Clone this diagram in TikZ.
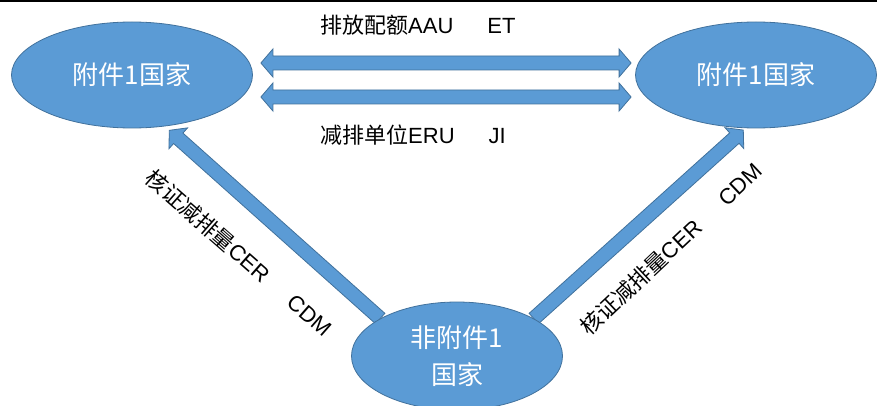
\documentclass[tikz,border=0pt]{standalone}
\usepackage{fontspec}
\setmainfont{Liberation Sans}
\newfontfamily\cjk{Noto Sans CJK SC}
\usetikzlibrary{shapes.geometric,calc,backgrounds}
\definecolor{nodeblue}{RGB}{91,155,213}
\definecolor{edgeblue}{RGB}{65,113,156}

\tikzset{
  country/.style={ellipse, fill=nodeblue, draw=edgeblue, line width=0.8pt, text=white,
    inner sep=0pt, align=center, font=\cjk\fontsize{26}{37}\selectfont},
  tradelabel/.style={inner sep=0pt, font=\fontsize{22}{26}\selectfont},
  bigarrow/.style={fill=nodeblue, draw=edgeblue, line width=0.8pt, line join=miter}
}

% block arrow, one head, from #1 to #2
\newcommand\blockarrow[2]{%
  \coordinate (hd) at ($(#2)!12pt!(#1)$);
  \draw[bigarrow] ($(#1)!7pt!90:(#2)$) -- ($(hd)!7pt!90:(#2)$) -- ($(hd)!14pt!90:(#2)$)
    -- (#2) -- ($(hd)!14pt!-90:(#2)$) -- ($(hd)!7pt!-90:(#2)$) -- ($(#1)!7pt!-90:(#2)$) -- cycle;}

% block arrow, two heads, between #1 and #2
\newcommand\dblarrow[2]{%
  \coordinate (ha) at ($(#1)!12pt!(#2)$);
  \coordinate (hb) at ($(#2)!12pt!(#1)$);
  \draw[bigarrow] (#1) -- ($(ha)!14pt!90:(#2)$) -- ($(ha)!7pt!90:(#2)$) -- ($(hb)!7pt!90:(#2)$)
    -- ($(hb)!14pt!90:(#2)$) -- (#2) -- ($(hb)!14pt!-90:(#2)$) -- ($(hb)!7pt!-90:(#2)$)
    -- ($(ha)!7pt!-90:(#2)$) -- ($(ha)!14pt!-90:(#2)$) -- cycle;}

\begin{document}
\begin{tikzpicture}[x=1pt,y=-1pt]
\useasboundingbox (0,0) rectangle (877,406);

% line along the top
\draw [line width=2pt] (0,1) -- (877,1);

% the three countries
\path (132,75) node[country, minimum width=241pt, minimum height=106pt] (annexL) {附件1国家};
\path (756,75) node[country, minimum width=241pt, minimum height=106pt] (annexR) {附件1国家};
\path (457,356) node[country, minimum width=211pt, minimum height=108pt] (nonannex) {非附件1\\国家};

% end points of the arrows
\coordinate (aauL) at ($(annexL.east)+(8,-12)$);
\coordinate (aauR) at ($(annexR.west)+(-4,-12)$);
\coordinate (eruL) at ($(annexL.east)+(8,22)$);
\coordinate (eruR) at ($(annexR.west)+(-4,22)$);
\coordinate (cdmL) at ($(annexL.-56)!-5pt!(annexL.center)$);
\coordinate (cdmR) at ($(annexR.-103)!-2pt!(annexR.center)$);

% to draw the block arrows, behind the ellipses
\begin{scope}[on background layer]
\dblarrow{aauL}{aauR}
\dblarrow{eruL}{eruR}
\blockarrow{nonannex.154}{cdmL}
\blockarrow{nonannex.26}{cdmR}
\end{scope}

% to write the labels
\node [tradelabel, anchor=west] (aau) at (320,25) {{\cjk 排放配额}AAU\hspace{34pt}ET};
\node [tradelabel, anchor=west] (eru) at (320,135) {{\cjk 减排单位}ERU\hspace{34pt}JI};
\node [tradelabel, rotate=-41.3] (cerL) at (239,253) {{\cjk 核证减排量}CER\hspace{32pt}CDM};
\node [tradelabel, rotate=43.3] (cerR) at (671,249) {{\cjk 核证减排量}CER\hspace{32pt}CDM};
\end{tikzpicture}
\end{document}
